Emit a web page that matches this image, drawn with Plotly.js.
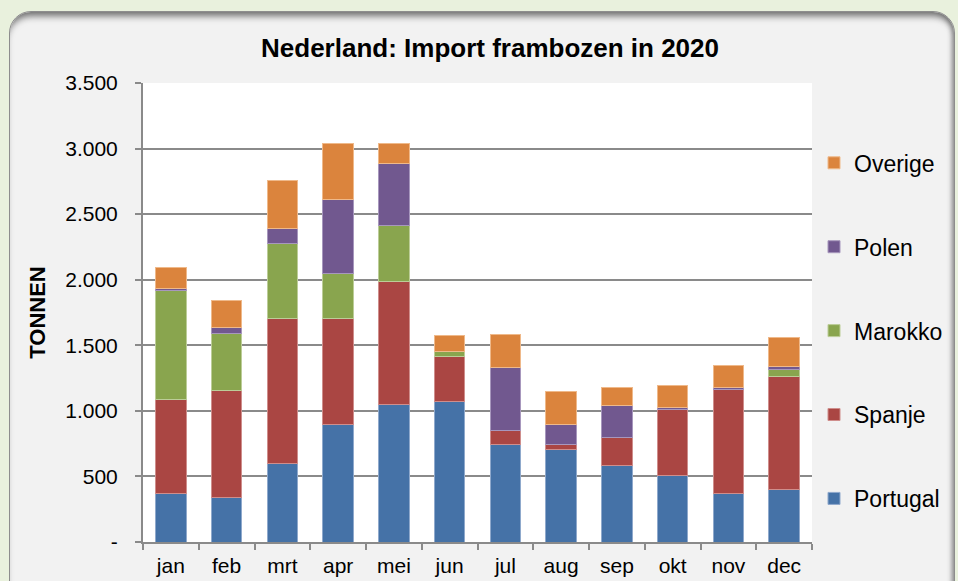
<!DOCTYPE html>
<html>
<head>
<meta charset="utf-8">
<script src="https://cdn.plot.ly/plotly-3.0.1.min.js"></script>
<style>
  html, body { margin:0; padding:0; width:958px; height:581px; overflow:hidden; background:#e9f1dd; }
  #panel { position:absolute; left:9px; top:11px; width:944px; height:590px; border-radius:22px;
    background:#f2f2f2; border:1.5px solid #8d8d8d;
    box-shadow: inset 0 8px 7px -4px #6f6f6f, inset -5px 0 5px -3px #8a8a8a; }
  #chart { position:absolute; left:0; top:0; width:958px; height:581px; }
</style>
</head>
<body>
<div id="panel"></div>
<div id="chart"></div>
<script>
const months = ["jan","feb","mrt","apr","mei","jun","jul","aug","sep","okt","nov","dec"];
const portugal = [372, 342, 600, 893, 1051, 1074, 747, 707, 584, 510, 367, 403];
const spanje   = [717, 814, 1107, 814, 934, 342, 102, 38, 214, 503, 799, 860];
const marokko  = [829, 431, 566, 344, 428, 33, 0, 0, 0, 0, 0, 56];
const polen    = [18, 51, 115, 561, 472, 3, 478, 150, 245, 15, 13, 20];
const overige  = [160, 204, 372, 429, 156, 122, 255, 250, 138, 163, 168, 220];
const yTickVals = [0, 500, 1000, 1500, 2000, 2500, 3000, 3500];
const yTickText = ["-", "500", "1.000", "1.500", "2.000", "2.500", "3.000", "3.500"];

const series = [
  {name: "Portugal", y: portugal, color: "#4572a7", edge: "#8fa9cc", rank: 5},
  {name: "Spanje",   y: spanje,   color: "#aa4643", edge: "#cf8e8c", rank: 4},
  {name: "Marokko",  y: marokko,  color: "#89a54e", edge: "#bccd98", rank: 3},
  {name: "Polen",    y: polen,    color: "#71588f", edge: "#a797bd", rank: 2},
  {name: "Overige",  y: overige,  color: "#db843d", edge: "#efb98a", rank: 1}
];

const traces = series.map(s => ({
  type: "bar", x: months, y: s.y, name: s.name, legendgroup: s.name, legendrank: s.rank,
  marker: {color: s.color, line: {color: s.edge, width: 1}},
  hoverinfo: "x+y+name"
}));

const layout = {
  width: 958, height: 581,
  barmode: "stack", bargap: 0.45,
  paper_bgcolor: "rgba(0,0,0,0)", plot_bgcolor: "#ffffff",
  margin: {l: 143, r: 146, t: 83, b: 39, pad: 0, autoexpand: false},
  font: {family: "Arial, 'Liberation Sans', sans-serif", color: "#000", size: 21},
  title: {text: "<b>Nederland: Import frambozen in 2020</b>", font: {size: 26, color: "#000"},
          xref: "container", x: 0.5115, xanchor: "center", yref: "container", y: 0.917, yanchor: "middle"},
  xaxis: {type: "category", showline: true, linecolor: "#8a8a8a", linewidth: 2,
          ticks: "outside", tickson: "boundaries", ticklen: 6, tickcolor: "#8a8a8a", tickwidth: 2,
          tickfont: {size: 21}, ticklabelstandoff: 4, showgrid: false, zeroline: false},
  yaxis: {range: [0, 3500], tickvals: yTickVals, ticktext: yTickText, ticks: "outside", ticklen: 6,
          tickcolor: "#8a8a8a", tickwidth: 2, showline: true, linecolor: "#8a8a8a", linewidth: 2,
          showgrid: true, gridcolor: "#8a8a8a", gridwidth: 2, zeroline: false,
          tickfont: {size: 21}, ticklabelstandoff: 13,
          title: {text: "<b>TONNEN</b>", font: {size: 22}, standoff: 14}},
  legend: {x: 1.003, xanchor: "left", y: 0.46, yanchor: "middle", traceorder: "grouped",
           tracegroupgap: 51, font: {size: 23}, bgcolor: "rgba(0,0,0,0)", itemclick: false}
};

Plotly.newPlot("chart", traces, layout, {displayModeBar: false, staticPlot: true});
</script>
</body>
</html>
